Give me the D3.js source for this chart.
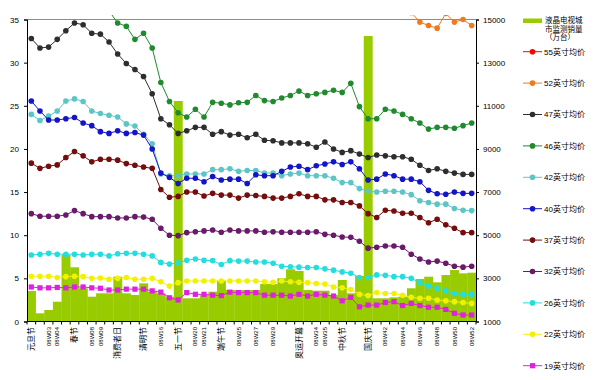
<!DOCTYPE html>
<html><head><meta charset="utf-8">
<script src="https://cdn.jsdelivr.net/npm/d3@7"></script>
<style>
body{margin:0;background:#fff}
svg{display:block}
text{font-family:"Liberation Sans",Arial,"Noto Sans CJK SC",sans-serif;fill:#000}
</style>
</head><body><svg id="c" width="600" height="380"></svg>
<script>
const weekLabels = ["元旦节","","08W03","08W04","","春节","","08W08","08W09","","消费者日","","","清明节","","08W16","","五一节","","08W20","08W21","","端午节","","08W25","","08W27","","08W29","","","奥运开幕","","08W34","08W35","","中秋节","","","国庆节","","08W42","","08W44","","08W46","","08W48","","08W50","","08W52"];
const leftTicks = [0,5,10,15,20,25,30,35];
const rightTicks = [1000,3000,5000,7000,9000,11000,13000,15000];

const sales = [2414,1380,1533,1918,4083,3513,2540,2150,2307,2307,3077,2307,2228,2770,2383,2307,2150,11222,2075,2075,2228,2380,2890,2460,2460,2460,2460,2738,2738,3003,3420,3341,2460,2428,2428,2228,2924,2307,3109,14236,2075,2075,2120,2150,2540,2970,3077,2817,3155,3387,3233,3263];

const p55 = [58,58,57.5,57,57,56.5,56,56,55.5,55,54.5,54,53.5,53,52,50,49,48.5,48.5,48.5,48,48,48,47.8,47.5,47.5,47.2,47,47,46.8,46.5,46.5,46.2,46,46,45.8,45.5,45.5,45.2,45,45,44.8,44.6,44.5,44.2,44,43.8,43.5,43.5,43.2,43,43];
const p52 = [48,48,47.5,47.5,47,47,46.5,46,46,45.5,45,44.5,44,43.5,43,41,40,39.5,39.5,39.5,39,39,39,38.8,38.8,38.5,38.5,38.2,38.2,38,38,37.8,37.8,37.5,37.5,37.3,37,37,36.8,36.5,36.5,36.4,36.3,36.2,35.8,34.7,34.3,34.0,35.7,34.7,35.0,34.3];
const p47 = [32.8,31.7,31.8,32.7,33.7,34.6,34.4,33.4,33.3,32.4,31.0,29.9,29.2,28.4,26.4,23.5,22.8,21.8,22.1,22.5,22.5,21.7,22.0,21.6,21.7,21.3,21.7,21.0,20.95,20.7,20.7,20.7,20.6,20.2,20.8,20.0,19.6,19.8,19.4,19.0,19.3,19.2,19.1,19.1,18.8,18.1,17.5,17.7,17.4,17.2,17.05,17.05];
const p46 = [39.5,39.0,38.8,38.5,38.6,38.9,38.4,37.6,37.0,36.0,34.6,34.2,32.7,33.4,31.7,27.7,25.5,24.2,23.7,24.6,23.7,25.4,25.3,25.1,25.35,25.4,26.2,25.6,25.5,25.9,26.2,26.7,26.2,26.4,26.55,26.8,26.55,27.6,24.9,23.5,23.5,24.6,24.4,24.0,23.5,23.0,22.3,22.5,22.5,22.4,22.7,23.0];
const p42 = [24.0,23.3,23.8,24.4,25.55,25.8,25.5,24.4,24.1,23.9,23.7,22.9,22.65,21.7,20.6,17.1,16.9,16.9,17.1,17.1,17.1,17.6,17.6,17.7,17.4,17.5,17.5,17.2,17.2,16.9,17.1,17.2,16.9,16.9,16.9,16.6,16.1,16.1,15.4,15.1,15.0,15.1,15.1,15.0,14.7,14.0,13.8,13.6,13.6,13.1,12.9,12.85];
const p40 = [25.55,24.4,23.35,23.35,23.5,23.65,23.0,22.7,22.0,21.8,22.1,21.8,21.9,21.6,20.0,17.2,16.7,16.0,16.6,16.6,16.2,16.8,16.4,16.5,16.5,16.0,17.0,16.9,16.9,17.4,17.9,18.0,17.6,18.05,18.25,18.5,18.2,18.5,17.7,16.4,16.5,17.1,16.9,16.5,16.5,16.2,15.2,14.8,14.75,15.0,14.85,14.85];
const p37 = [18.35,17.75,18.0,18.15,19.0,19.7,19.2,18.5,18.8,18.8,18.7,18.3,18.1,17.9,17.75,15.3,14.4,14.5,15.0,15.0,14.55,14.85,14.65,14.65,14.3,14.65,14.6,14.5,14.3,14.3,14.5,14.8,14.5,14.5,14.1,14.1,13.8,13.8,13.4,12.5,12.05,12.9,12.8,12.55,12.55,12.05,11.45,11.85,11.2,10.8,10.3,10.3];
const p32 = [12.5,12.2,12.2,12.2,12.35,12.85,12.5,12.15,12.15,12.15,12.0,12.0,12.15,12.1,11.85,10.8,10.0,9.95,10.3,10.4,10.5,10.6,10.35,10.6,10.5,10.5,10.5,10.35,10.4,10.35,10.35,10.35,10.35,10.4,10.1,10.0,9.8,9.75,9.3,8.5,8.6,8.75,8.75,8.6,7.8,7.25,6.9,7.0,6.75,6.4,6.3,6.4];
const p26 = [7.7,7.8,7.9,7.8,7.8,7.8,7.7,7.8,7.8,7.6,7.85,7.9,7.9,7.8,7.6,6.85,6.65,6.8,7.1,7.25,7.1,7.05,6.6,7.05,7.0,7.0,6.9,6.9,6.75,6.4,6.35,6.3,6.25,6.25,6.1,5.95,5.75,5.6,5.1,5.1,5.4,5.35,5.2,5.2,5.0,4.5,4.1,3.85,3.55,3.25,3.15,3.15];
const p22 = [5.25,5.25,5.25,5.1,5.2,5.25,5.2,5.0,5.05,4.9,5.0,5.1,4.9,4.9,5.0,4.6,4.1,4.5,4.7,4.7,4.7,4.7,4.7,4.7,4.7,4.7,4.7,4.6,4.55,4.7,4.6,4.55,4.5,4.4,4.35,4.0,3.9,3.7,3.15,3.0,3.35,3.25,3.25,3.05,2.8,2.7,2.7,2.5,2.4,2.3,2.2,2.1];
const p19 = [4.0,3.9,3.9,3.95,3.9,4.0,4.0,3.9,3.85,3.65,3.65,3.75,3.75,3.75,3.55,3.4,2.75,2.5,3.35,3.15,3.15,3.05,3.0,3.4,3.35,3.35,3.35,3.05,3.05,3.05,2.95,3.15,2.95,3.15,3.05,2.95,2.4,2.8,1.7,1.9,1.9,2.2,2.3,1.85,2.1,1.85,1.65,1.65,1.4,0.95,0.75,0.75];

const barName = ["液晶电视城","市监测销量","（万台）"];
const seriesNames = ["55英寸均价","52英寸均价","47英寸均价","46英寸均价","42英寸均价","40英寸均价","37英寸均价","32英寸均价","26英寸均价","22英寸均价","19英寸均价"];
const seriesValues = [p55,p52,p47,p46,p42,p40,p37,p32,p26,p22,p19];
const seriesColors = ["#ff0000","#f07a20","#2e2e2e","#1f8a2e","#5cc6c6","#1414c8","#760c0c","#6a1a6a","#22dede","#f2f200","#e020e0"];
const seriesShapes = ["circle","circle","circle","circle","circle","circle","circle","circle","circle","circle","square"];

const svg = d3.select("#c");
const L = 27, R = 476, T = 19.5, B = 321.5;
const x = d3.scaleBand().domain(d3.range(weekLabels.length)).range([L, R]).padding(0);
const yL = d3.scaleLinear().domain([0, 35]).range([B, T]);
const yR = d3.scaleLinear().domain([1000, 15000]).range([B, T]);
const cx = i => x(i) + x.bandwidth() / 2;

svg.append("defs").append("clipPath").attr("id","clip")
  .append("rect").attr("x", L).attr("y", 15).attr("width", R - L).attr("height", B - 15);

// bars
svg.append("g").selectAll("rect").data(sales).join("rect")
  .attr("x", (d,i) => x(i)).attr("width", x.bandwidth() + 0.3)
  .attr("y", d => yR(d)).attr("height", d => B - yR(d))
  .attr("fill", "#99cc00");

// top border
svg.append("line").attr("x1", L).attr("x2", R).attr("y1", T).attr("y2", T)
  .attr("stroke", "#8c8c8c").attr("stroke-width", 1);

// lines
const lineGen = d3.line().x((d,i) => cx(i)).y(d => yL(d));
const lg = svg.append("g").attr("clip-path", "url(#clip)");
seriesValues.forEach((vals, k) => {
  const g = lg.append("g");
  g.append("path").attr("d", lineGen(vals)).attr("fill", "none")
    .attr("stroke", seriesColors[k]).attr("stroke-width", 1);
  if (seriesShapes[k] === "square") {
    g.selectAll("rect").data(vals).join("rect")
      .attr("x", (d,i) => cx(i) - 2.6).attr("y", d => yL(d) - 2.6)
      .attr("width", 5.2).attr("height", 5.2).attr("fill", seriesColors[k]);
  } else {
    g.selectAll("circle").data(vals).join("circle")
      .attr("cx", (d,i) => cx(i)).attr("cy", d => yL(d)).attr("r", 2.8)
      .attr("fill", seriesColors[k]);
  }
});

// axes
const axL = svg.append("g").attr("transform", `translate(${L},0)`)
  .call(d3.axisLeft(yL).tickValues(leftTicks).tickSize(3).tickPadding(5).tickFormat(d3.format("d")));
const axR = svg.append("g").attr("transform", `translate(${R},0)`)
  .call(d3.axisRight(yR).tickValues(rightTicks).tickSize(3).tickPadding(4).tickFormat(d3.format("d")));
[axL, axR].forEach(a => {
  a.select(".domain").attr("stroke", "#000");
  a.selectAll(".tick line").attr("stroke", "#000");
  a.selectAll("text").attr("font-size", "8px").attr("font-family", "Liberation Sans, Arial, sans-serif");
});

// bottom axis
svg.append("line").attr("x1", L).attr("x2", R).attr("y1", B).attr("y2", B).attr("stroke", "#000");
svg.append("g").selectAll("line").data(d3.range(weekLabels.length + 1)).join("line")
  .attr("x1", i => L + i * x.step()).attr("x2", i => L + i * x.step())
  .attr("y1", B).attr("y2", B + 3).attr("stroke", "#000");
svg.append("g").selectAll("text").data(weekLabels).join("text")
  .attr("transform", (d,i) => `translate(${cx(i)},327) rotate(-90)`)
  .attr("text-anchor", "end").attr("dy", "0.35em")
  .attr("font-size", d => /^08W/.test(d) ? "6px" : "8px").text(d => d);

// legend
const lgd = svg.append("g");
lgd.append("rect").attr("x", 523).attr("y", 18.5).attr("width", 19).attr("height", 4.5).attr("fill", "#99cc00");
barName.forEach((t, j) => {
  lgd.append("text").attr("x", 545).attr("y", 20.7 + j * 8.5).attr("dy", "0.35em")
    .attr("font-size", "7.5px").text(t);
});
seriesNames.forEach((nm, k) => {
  const yy = 51.7 + k * 31.4;
  lgd.append("line").attr("x1", 523).attr("x2", 542).attr("y1", yy).attr("y2", yy)
    .attr("stroke", seriesColors[k]).attr("stroke-width", 1);
  if (seriesShapes[k] === "square") {
    lgd.append("rect").attr("x", 530).attr("y", yy - 2.6).attr("width", 5.2).attr("height", 5.2).attr("fill", seriesColors[k]);
  } else {
    lgd.append("circle").attr("cx", 532.5).attr("cy", yy).attr("r", 2.8).attr("fill", seriesColors[k]);
  }
  lgd.append("text").attr("x", 544).attr("y", yy).attr("dy", "0.35em")
    .attr("font-size", "8px").text(nm);
});
</script></body></html>
